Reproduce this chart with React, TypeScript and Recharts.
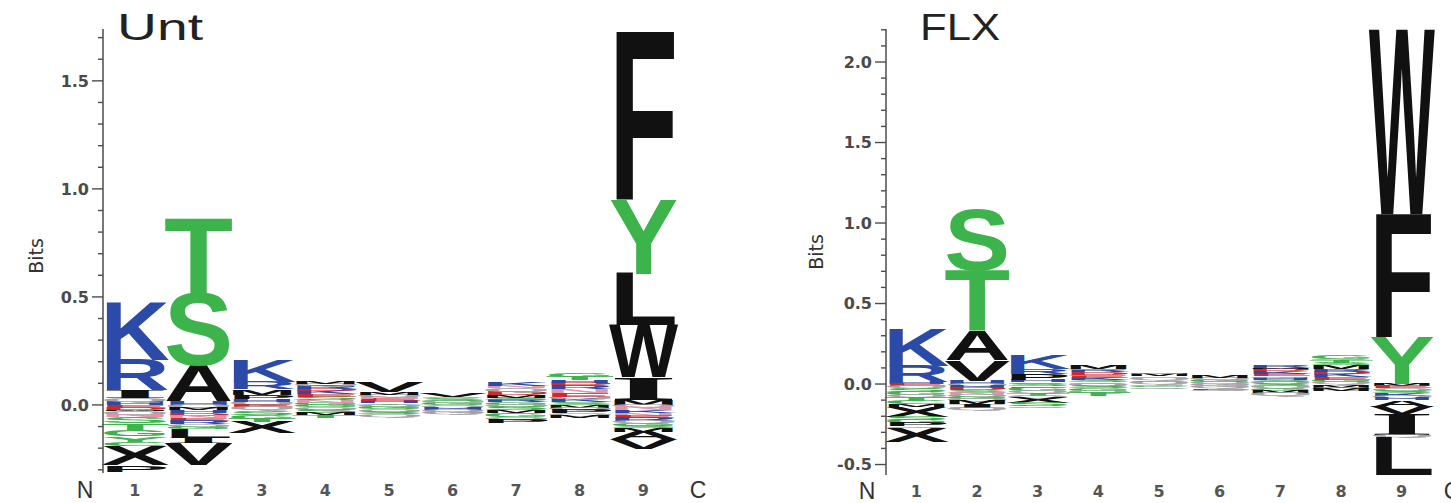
import { BarChart, Bar, XAxis, YAxis, Label } from 'recharts'

// logo columns: letters listed from the zero line outward, [letter, bits]
type Stack = [string, number][]

const positions = ['1', '2', '3', '4', '5', '6', '7', '8', '9']

const untUp: Stack[] = [
  [['H', 0.015], ['Q', 0.017], ['I', 0.037], ['R', 0.14], ['K', 0.268]],
  [['H', 0.02], ['A', 0.165], ['S', 0.33], ['T', 0.35]],
  [['Q', 0.015], ['H', 0.012], ['P', 0.02], ['M', 0.025], ['R', 0.035], ['K', 0.1]],
  [['G', 0.01], ['N', 0.012], ['S', 0.015], ['E', 0.012], ['K', 0.015], ['D', 0.01], ['R', 0.015], ['Q', 0.01], ['M', 0.012]],
  [['T', 0.008], ['H', 0.01], ['E', 0.01], ['N', 0.01], ['Q', 0.01], ['M', 0.012], ['V', 0.045]],
  [['G', 0.01], ['Q', 0.01], ['S', 0.01], ['Q', 0.008], ['V', 0.015]],
  [['G', 0.012], ['R', 0.01], ['S', 0.01], ['M', 0.012], ['D', 0.015], ['Q', 0.02], ['N', 0.01], ['K', 0.02]],
  [['S', 0.012], ['K', 0.015], ['Q', 0.01], ['E', 0.02], ['N', 0.015], ['R', 0.02], ['D', 0.01], ['H', 0.012], ['T', 0.015], ['G', 0.015]],
  [['M', 0.023], ['I', 0.105], ['W', 0.24], ['L', 0.24], ['Y', 0.345], ['F', 0.775]],
]

const untDown: Stack[] = [
  [['E', 0.012], ['D', 0.01], ['M', 0.008], ['Q', 0.015], ['N', 0.01], ['S', 0.03], ['T', 0.03], ['G', 0.03], ['Y', 0.025], ['C', 0.02], ['X', 0.09], ['P', 0.03]],
  [['Q', 0.015], ['M', 0.01], ['H', 0.012], ['D', 0.012], ['N', 0.012], ['E', 0.012], ['R', 0.015], ['Q', 0.012], ['G', 0.012], ['L', 0.04], ['I', 0.025], ['V', 0.1]],
  [['E', 0.01], ['Q', 0.015], ['S', 0.02], ['G', 0.02], ['T', 0.015], ['X', 0.05]],
  [['G', 0.01], ['Q', 0.012], ['S', 0.015], ['M', 0.01], ['T', 0.012]],
  [['Q', 0.01], ['G', 0.01], ['Q', 0.012], ['S', 0.012], ['Q', 0.01]],
  [['Q', 0.012], ['H', 0.01], ['Q', 0.012], ['Q', 0.01]],
  [['Q', 0.01], ['S', 0.015], ['M', 0.012], ['G', 0.02], ['Q', 0.012], ['P', 0.015]],
  [['M', 0.012], ['Q', 0.012], ['P', 0.015], ['Q', 0.012], ['M', 0.01]],
  [['Q', 0.01], ['N', 0.015], ['K', 0.012], ['N', 0.012], ['E', 0.01], ['R', 0.015], ['Q', 0.01], ['G', 0.012], ['S', 0.012], ['M', 0.015], ['A', 0.035], ['V', 0.045]],
]

const flxUp: Stack[] = [
  [['H', 0.015], ['R', 0.1], ['K', 0.23]],
  [['H', 0.02], ['V', 0.13], ['A', 0.185], ['T', 0.375], ['S', 0.37]],
  [['Q', 0.01], ['H', 0.015], ['P', 0.04], ['R', 0.03], ['K', 0.085]],
  [['Q', 0.01], ['S', 0.012], ['K', 0.015], ['E', 0.012], ['Q', 0.01], ['D', 0.015], ['R', 0.012], ['Q', 0.01], ['M', 0.02]],
  [['Q', 0.012], ['G', 0.01], ['Q', 0.015], ['N', 0.01], ['M', 0.015], ['Q', 0.01]],
  [['Q', 0.012], ['G', 0.015], ['Q', 0.012], ['M', 0.012]],
  [['Q', 0.012], ['S', 0.015], ['H', 0.012], ['Q', 0.01], ['E', 0.015], ['K', 0.015], ['D', 0.012], ['M', 0.01], ['R', 0.017]],
  [['Q', 0.012], ['G', 0.015], ['E', 0.015], ['K', 0.02], ['D', 0.015], ['R', 0.015], ['M', 0.025], ['S', 0.015], ['T', 0.015], ['Q', 0.01], ['G', 0.02]],
  [['Y', 0.29], ['F', 0.765], ['W', 1.145]],
]

const flxDown: Stack[] = [
  [['E', 0.012], ['Q', 0.015], ['S', 0.02], ['G', 0.02], ['Q', 0.015], ['T', 0.025], ['C', 0.02], ['M', 0.015], ['X', 0.06], ['S', 0.02], ['G', 0.02], ['P', 0.02], ['Q', 0.01], ['X', 0.085]],
  [['Q', 0.015], ['H', 0.012], ['D', 0.012], ['S', 0.015], ['N', 0.012], ['Q', 0.012], ['G', 0.015], ['Q', 0.012], ['M', 0.02], ['I', 0.025], ['Q', 0.012]],
  [['S', 0.015], ['E', 0.01], ['G', 0.02], ['Q', 0.012], ['T', 0.015], ['Q', 0.012], ['X', 0.035], ['S', 0.02], ['Q', 0.01]],
  [['Q', 0.012], ['S', 0.015], ['G', 0.015], ['Q', 0.012], ['T', 0.02]],
  [['Q', 0.01], ['G', 0.01], ['Q', 0.008]],
  [['Q', 0.012], ['Q', 0.012], ['E', 0.01], ['Q', 0.008]],
  [['S', 0.012], ['Q', 0.015], ['G', 0.015], ['M', 0.015], ['Q', 0.02]],
  [['Q', 0.01], ['M', 0.012], ['Q', 0.012], ['M', 0.012]],
  [['M', 0.012], ['E', 0.015], ['Q', 0.015], ['S', 0.012], ['K', 0.018], ['Q', 0.015], ['H', 0.013], ['A', 0.04], ['V', 0.045], ['I', 0.13], ['Q', 0.015], ['L', 0.235]],
]

const untTicks = [-0.3, -0.2, -0.1, 0, 0.1, 0.2, 0.3, 0.4, 0.5, 0.6, 0.7, 0.8, 0.9, 1.0, 1.1, 1.2, 1.3, 1.4, 1.5, 1.6, 1.7]
const flxTicks = [-0.5, -0.4, -0.3, -0.2, -0.1, 0, 0.1, 0.2, 0.3, 0.4, 0.5, 0.6, 0.7, 0.8, 0.9, 1.0, 1.1, 1.2, 1.3, 1.4, 1.5, 1.6, 1.7, 1.8, 1.9, 2.0, 2.1, 2.2]

const BLUE = '#2c4aa8'
const GREEN = '#3cb44b'
const RED = '#d3282b'
const BLACK = '#111111'
const colors: Record<string, string> = {
  K: BLUE, R: BLUE, H: BLUE,
  S: GREEN, T: GREEN, Y: GREEN, G: GREEN, C: GREEN,
  D: RED, E: RED,
  N: '#e393ad', Q: '#a3a3a8',
}

const AXIS = '#4d4d4d'
const SANS = 'Liberation Sans, Arial, sans-serif'
const TICKFONT = 'DejaVu Sans, Verdana, sans-serif'

function Glyph(props: any) {
  const { x, y, width, height, ch } = props
  let top = y
  let h = height
  if (h < 0) {
    top = y + h
    h = -h
  }
  if (!ch || !(h > 0.3)) return null
  const serif = ch === 'I'
  const cap = serif ? 66.2 : 68.8
  return (
    <text
      x={-4}
      y={0}
      fontSize={100}
      fontWeight="bold"
      fontFamily={serif ? 'Liberation Serif, serif' : SANS}
      fill={colors[ch] ?? BLACK}
      textLength={108}
      lengthAdjust="spacingAndGlyphs"
      transform={`translate(${x} ${top + h}) scale(${width / 100} ${h / cap})`}
    >
      {ch}
    </text>
  )
}

function YTick(props: any) {
  const { x, y, payload } = props
  const v = Number(payload.value)
  const major = Math.abs(v * 2 - Math.round(v * 2)) < 1e-6
  return (
    <g>
      <line x1={x - (major ? 11 : 5)} x2={x} y1={y} y2={y} stroke={AXIS} strokeWidth={1.4} />
      {major && (
        <text x={x - 14} y={y} dy="0.36em" textAnchor="end" fontSize={16} fontWeight="bold" fill="#4a4a4a" fontFamily={TICKFONT}>
          {v.toFixed(1)}
        </text>
      )}
    </g>
  )
}

function buildRows(up: Stack[], down: Stack[], nUp: number, nDown: number) {
  return positions.map((p, i) => {
    const row: Record<string, any> = { pos: p, up: up[i], down: down[i] }
    for (let k = 0; k < nUp; k++) row['u' + k] = up[i][k] ? up[i][k][1] : 0
    for (let k = 0; k < nDown; k++) row['d' + k] = down[i][k] ? -down[i][k][1] : 0
    return row
  })
}

interface PanelProps {
  title: string
  titleX: number
  titleW: number
  left: number
  width: number
  axisWidth: number
  marginRight: number
  xAxisHeight: number
  domain: [number, number]
  ticks: number[]
  up: Stack[]
  down: Stack[]
  bitsX: number
  bitsY: number
  nX: number
  cX: number
  labelY: number
}

function LogoPanel(p: PanelProps) {
  const nUp = Math.max(...p.up.map((c) => c.length))
  const nDown = Math.max(...p.down.map((c) => c.length))
  const rows = buildRows(p.up, p.down, nUp, nDown)
  const upKeys = Array.from({ length: nUp }, (_, k) => k)
  const downKeys = Array.from({ length: nDown }, (_, k) => k)

  return (
    <div style={{ position: 'absolute', left: p.left, top: 0 }}>
      <BarChart
        width={p.width}
        height={503}
        data={rows}
        stackOffset="sign"
        barCategoryGap={0}
        barGap={0}
        margin={{ top: 29, right: p.marginRight, bottom: 0, left: 0 }}
      >
        <XAxis
          dataKey="pos"
          interval={0}
          axisLine={false}
          tickLine={false}
          tickSize={0}
          height={p.xAxisHeight}
          tick={(t: any) => (
            <text x={t.x} y={p.labelY} dy="0.36em" textAnchor="middle" fontSize={16} fontWeight="bold" fill="#555" fontFamily={TICKFONT}>
              {t.payload.value}
            </text>
          )}
        >
          <Label
            content={() => (
              <g fontFamily={SANS} fontSize={23} fill="#333">
                <text x={p.nX} y={p.labelY} dy="0.36em" textAnchor="middle">N</text>
                <text x={p.cX} y={p.labelY} dy="0.36em" textAnchor="middle">C</text>
              </g>
            )}
          />
        </XAxis>
        <YAxis
          type="number"
          domain={p.domain}
          allowDataOverflow
          ticks={p.ticks}
          interval={0}
          width={p.axisWidth}
          tickLine={false}
          tickSize={0}
          tickMargin={0}
          axisLine={{ stroke: AXIS, strokeWidth: 1.5 }}
          tick={YTick}
        >
          <Label
            content={() => (
              <text
                x={p.bitsX}
                y={p.bitsY}
                transform={`rotate(-90 ${p.bitsX} ${p.bitsY})`}
                textAnchor="middle"
                dy="0.36em"
                fontSize={19}
                fill="#333"
                fontFamily={TICKFONT}
              >
                Bits
              </text>
            )}
          />
        </YAxis>
        {upKeys.map((k) => (
          <Bar
            key={'u' + k}
            dataKey={'u' + k}
            stackId="logo"
            isAnimationActive={false}
            shape={(s: any) => <Glyph {...s} ch={s.payload.up[k]?.[0]} />}
          />
        ))}
        {downKeys.map((k) => (
          <Bar
            key={'d' + k}
            dataKey={'d' + k}
            stackId="logo"
            isAnimationActive={false}
            shape={(s: any) => <Glyph {...s} ch={s.payload.down[k]?.[0]} />}
          />
        ))}
      </BarChart>
      <svg style={{ position: 'absolute', left: p.titleX - p.left, top: 0 }} width={p.titleW + 10} height={50}>
        <text x={0} y={40} fontSize={37} fill="#222" fontFamily={SANS} textLength={p.titleW} lengthAdjust="spacingAndGlyphs">
          {p.title}
        </text>
      </svg>
    </div>
  )
}

export default function App() {
  return (
    <div style={{ position: 'absolute', left: 0, top: 0, width: 1451, height: 503, background: '#fff', overflow: 'hidden' }}>
      <LogoPanel
        title="Unt"
        titleX={117}
        titleW={86}
        left={0}
        width={720}
        axisWidth={103}
        marginRight={45}
        xAxisHeight={30}
        domain={[-0.315, 1.74]}
        ticks={untTicks}
        up={untUp}
        down={untDown}
        bitsX={36}
        bitsY={256}
        nX={85}
        cX={698}
        labelY={490}
      />
      <LogoPanel
        title="FLX"
        titleX={920}
        titleW={80}
        left={720}
        width={731}
        axisWidth={166}
        marginRight={19}
        xAxisHeight={28}
        domain={[-0.565, 2.205]}
        ticks={flxTicks}
        up={flxUp}
        down={flxDown}
        bitsX={96}
        bitsY={252}
        nX={147}
        cX={732}
        labelY={491}
      />
    </div>
  )
}
